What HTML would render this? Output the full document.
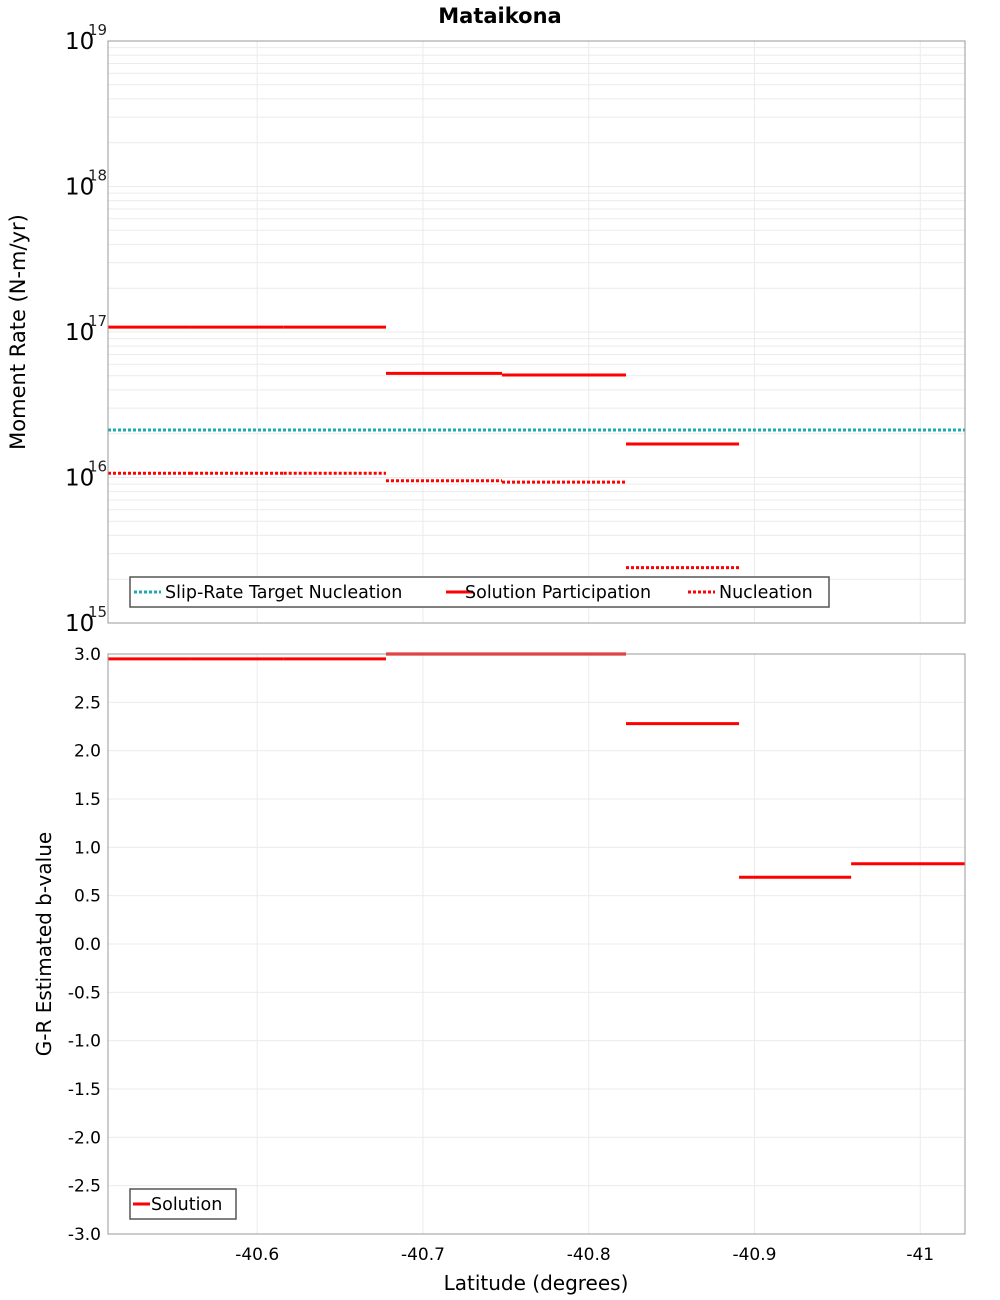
<!DOCTYPE html>
<html><head><meta charset="utf-8"><style>
body{margin:0;background:#fff;}
svg{display:block;font-family:"DejaVu Sans","Liberation Sans",sans-serif;}
</style></head><body>
<svg id="chart" width="1000" height="1300" xmlns="http://www.w3.org/2000/svg"></svg>
<script>
const segBounds = [-40.51, -40.5595, -40.616, -40.6777, -40.7477, -40.8225, -40.8907, -40.9583, -41.027];
const participation = [1.08e17, 1.08e17, 1.08e17, 5.2e16, 5.06e16, 1.7e16, null, null];
const nucleation = [1.07e16, 1.07e16, 1.07e16, 9.5e15, 9.3e15, 2.4e15, null, null];
const targetNucleation = 2.12e16;
const bValues = [2.95, 2.95, 2.95, 3.0, 3.0, 2.28, 0.69, 0.83];
const xTicks = [-40.6, -40.7, -40.8, -40.9, -41];
const xTickLabels = ["-40.6", "-40.7", "-40.8", "-40.9", "-41"];
const logTicks = [15, 16, 17, 18, 19];
const bTicks = [-3, -2.5, -2, -1.5, -1, -0.5, 0, 0.5, 1, 1.5, 2, 2.5, 3];

const svg = document.getElementById('chart');
const NS = 'http://www.w3.org/2000/svg';
const L = 108, R = 965, T1 = 41, B1 = 623, T2 = 654, B2 = 1234;
const xMin = -40.51, xMax = -41.027;
const xs = v => L + (v - xMin) / (xMax - xMin) * (R - L);
const y1 = v => B1 - (Math.log10(v) - 15) / 4 * (B1 - T1);
const y2 = v => B2 - (v + 3) / 6 * (B2 - T2);

function el(tag, attrs, text) {
  const e = document.createElementNS(NS, tag);
  for (const k in attrs) e.setAttribute(k, attrs[k]);
  if (text !== undefined) e.textContent = text;
  svg.appendChild(e);
  return e;
}
const grid = '#ebebeb';
let g;
for (let d = 15; d < 19; d++) for (let m = 2; m <= 9; m++) {
  g = el('line', {x1: L, x2: R, y1: y1(m * Math.pow(10, d)), y2: y1(m * Math.pow(10, d)), stroke: grid, 'stroke-width': 1});
  
  
}
logTicks.forEach(t => {
  g = el('line', {x1: L, x2: R, y1: y1(Math.pow(10, t)), y2: y1(Math.pow(10, t)), stroke: grid});
  
  
  const tx = el('text', {x: 65, y: y1(Math.pow(10, t)) + 8, 'font-size': 23}, '10');
  
  
  const ex = el('text', {x: 88, y: y1(Math.pow(10, t)) - 6, 'font-size': 15, fill: '#222'}, String(t));
  
  
});
xTicks.forEach(t => {
  g = el('line', {x1: xs(t), x2: xs(t), y1: T1, y2: B1, stroke: grid});
  
  
  g = el('line', {x1: xs(t), x2: xs(t), y1: T2, y2: B2, stroke: grid});
  
  
});
bTicks.forEach(t => {
  g = el('line', {x1: L, x2: R, y1: y2(t), y2: y2(t), stroke: grid});
  
  
  const tx = el('text', {x: 101, y: y2(t) + 6, 'font-size': 17, 'text-anchor': 'end'}, t.toFixed(1));
  
  
});
xTicks.forEach((t, i) => {
  const tx = el('text', {x: xs(t), y: 1260, 'font-size': 17, 'text-anchor': 'middle'}, xTickLabels[i]);
  
  
});
g = el('line', {x1: L, x2: R, y1: y1(targetNucleation), y2: y1(targetNucleation), stroke: '#1aacb0', 'stroke-width': 3, 'stroke-dasharray': '3,2'});


for (let i = 0; i < segBounds.length - 1; i++) {
  const a = xs(segBounds[i]), b = xs(segBounds[i + 1]);
  if (participation[i] !== null) {
    g = el('line', {x1: a, x2: b, y1: y1(participation[i]), y2: y1(participation[i]), stroke: '#ff0000', 'stroke-width': 3});
    
    
  }
  if (nucleation[i] !== null) {
    g = el('line', {x1: a, x2: b, y1: y1(nucleation[i]), y2: y1(nucleation[i]), stroke: '#ff0000', 'stroke-width': 3, 'stroke-dasharray': '3,2'});
    
    
  }
  g = el('line', {x1: a, x2: b, y1: y2(bValues[i]), y2: y2(bValues[i]), stroke: '#ff0000', 'stroke-width': 3});
  
  
}
g = el('rect', {x: L, y: T1, width: R - L, height: B1 - T1, fill: 'none', stroke: '#999'});


g = el('rect', {x: L, y: T2, width: R - L, height: B2 - T2, fill: 'none', stroke: '#999'});


g = el('rect', {x: 130, y: 577, width: 699, height: 30, fill: '#fff', stroke: '#555', 'stroke-width': 1.5});


const leg = [[134, 'Slip-Rate Target Nucleation', '#1aacb0', '3,2', 165], [446, 'Solution Participation', '#ff0000', '', 465], [688, 'Nucleation', '#ff0000', '3,2', 719]];
leg.forEach(l => {
  g = el('line', {x1: l[0], x2: l[0] + 27, y1: 592, y2: 592, stroke: l[2], 'stroke-width': 3, 'stroke-dasharray': l[3] || 'none'});
  
  
  g = el('text', {x: l[4], y: 598, 'font-size': 17.5}, l[1]);
  
  
});
g = el('rect', {x: 130, y: 1189, width: 106, height: 30, fill: '#fff', stroke: '#555', 'stroke-width': 1.5});


g = el('line', {x1: 133, x2: 150, y1: 1204, y2: 1204, stroke: '#ff0000', 'stroke-width': 3});


g = el('text', {x: 151, y: 1210, 'font-size': 17.5}, 'Solution');


g = el('text', {x: 500, y: 23, 'font-size': 21, 'font-weight': 'bold', 'text-anchor': 'middle'}, 'Mataikona');


g = el('text', {x: 536, y: 1290, 'font-size': 20, 'text-anchor': 'middle'}, 'Latitude (degrees)');


g = el('text', {x: 0, y: 0, 'font-size': 21, 'text-anchor': 'middle', transform: 'translate(25,332) rotate(-90)'}, 'Moment Rate (N-m/yr)');


g = el('text', {x: 0, y: 0, 'font-size': 20, 'text-anchor': 'middle', transform: 'translate(51,944) rotate(-90)'}, 'G-R Estimated b-value');


</script>
</body></html>
